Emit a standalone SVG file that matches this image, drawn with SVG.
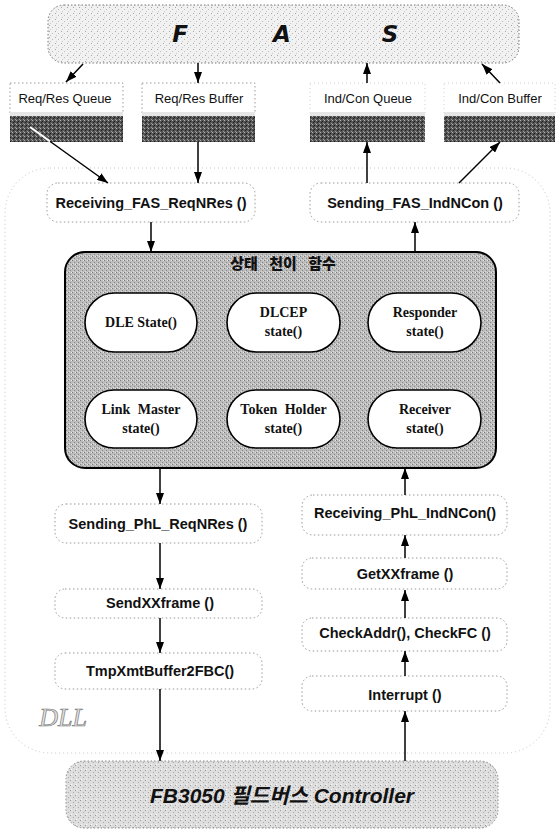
<svg xmlns="http://www.w3.org/2000/svg" width="557" height="832" viewBox="0 0 557 832">
<defs>
  <pattern id="pLight" width="6" height="6" patternUnits="userSpaceOnUse">
    <rect width="6" height="6" fill="#f1f1f1"/>
    <rect x="1" y="1" width="1" height="1" fill="#a8a8a8"/>
    <rect x="4" y="3" width="1" height="1" fill="#bdbdbd"/>
    <rect x="2" y="5" width="1" height="1" fill="#c8c8c8"/>
  </pattern>
  <pattern id="pCtrl" width="5" height="5" patternUnits="userSpaceOnUse">
    <rect width="5" height="5" fill="#dedede"/>
    <rect x="0" y="0" width="1" height="1" fill="#999"/>
    <rect x="3" y="2" width="1" height="1" fill="#aaa"/>
    <rect x="1" y="4" width="1" height="1" fill="#f7f7f7"/>
  </pattern>
  <pattern id="pState" width="4" height="4" patternUnits="userSpaceOnUse">
    <rect width="4" height="4" fill="#bcbcbc"/>
    <rect x="0" y="0" width="1" height="1" fill="#7c7c7c"/>
    <rect x="2" y="2" width="1" height="1" fill="#8a8a8a"/>
    <rect x="3" y="0" width="1" height="1" fill="#e6e6e6"/>
    <rect x="1" y="3" width="1" height="1" fill="#dedede"/>
  </pattern>
  <pattern id="pDark" width="4" height="4" patternUnits="userSpaceOnUse">
    <rect width="4" height="4" fill="#555"/>
    <rect x="0" y="0" width="1" height="1" fill="#b0b0b0"/>
    <rect x="2" y="1" width="1" height="1" fill="#1c1c1c"/>
    <rect x="3" y="3" width="1" height="1" fill="#9a9a9a"/>
    <rect x="1" y="2" width="1" height="1" fill="#222"/>
  </pattern>
  <marker id="ah" viewBox="0 0 11 8" refX="11" refY="4" markerWidth="11" markerHeight="8" markerUnits="userSpaceOnUse" orient="auto">
    <path d="M0,0 L11,4 L0,8 Z" fill="#000"/>
  </marker>
  <style>
    .fn { fill: #fff; stroke: #9a9a9a; stroke-width: 1; stroke-dasharray: 1.5 2.5; }
    .fnt { font-family: "Liberation Sans", Arial, sans-serif; font-weight: bold; font-size: 14.5px; fill: #111; text-anchor: middle; }
    .ql { fill: #fff; stroke: #9a9a9a; stroke-width: 1; stroke-dasharray: 1.5 2.5; }
    .qt { font-family: "Liberation Sans", Arial, sans-serif; font-size: 13px; fill: #111; text-anchor: middle; }
    .strip { fill: #e6e6e6; }
    .band { fill: url(#pDark); }
    .ov { fill: #fff; stroke: #000; stroke-width: 1.6; }
    .ovt { font-family: "Liberation Serif", "Times New Roman", serif; font-weight: bold; font-size: 14px; fill: #111; text-anchor: middle; }
    .con line { stroke: #000; stroke-width: 1.5; fill: none; marker-end: url(#ah); }
    .con line.wht { stroke: #fff; stroke-width: 2; marker-end: none; }
  </style>
</defs>
<rect width="557" height="832" fill="#fff"/>

<g id="dll-region">
  <rect x="5" y="168" width="545" height="585" rx="45" fill="none" stroke="#c4c4c4" stroke-width="1" stroke-dasharray="1 3"/>
  <text x="63" y="726" font-family="Liberation Serif, serif" font-style="italic" font-size="26" fill="#e2e2e2" stroke="#7a7a7a" stroke-width="0.7" text-anchor="middle">DLL</text>
</g>

<g id="fas">
  <rect x="48" y="5" width="471" height="58" rx="16" fill="url(#pLight)" stroke="#777" stroke-width="1" stroke-dasharray="1.5 2"/>
  <g font-family="DejaVu Sans, Liberation Sans, sans-serif" font-weight="bold" font-style="italic" font-size="23" fill="#111" text-anchor="middle">
    <text x="180" y="42">F</text>
    <text x="282" y="42">A</text>
    <text x="390" y="42">S</text>
  </g>
</g>

<g id="req-res-queue">
  <rect class="ql" x="10" y="83" width="113" height="30"/>
  <text class="qt" x="65" y="103">Req/Res Queue</text>
  <rect class="strip" x="10" y="112" width="113" height="4"/>
  <rect class="band" x="10" y="116" width="113" height="26"/>
</g>
<g id="req-res-buffer">
  <rect class="ql" x="142" y="83" width="113" height="30"/>
  <text class="qt" x="199" y="103">Req/Res Buffer</text>
  <rect class="strip" x="142" y="112" width="113" height="4"/>
  <rect class="band" x="142" y="116" width="113" height="26"/>
</g>
<g id="ind-con-queue">
  <rect x="310" y="83" width="115" height="30" fill="#fff" stroke="#d0d0d0" stroke-width="1" stroke-dasharray="1 3"/>
  <text class="qt" x="368" y="103">Ind/Con Queue</text>
  <rect class="strip" x="310" y="112" width="115" height="4"/>
  <rect class="band" x="310" y="116" width="115" height="26"/>
</g>
<g id="ind-con-buffer">
  <rect x="444" y="83" width="111" height="30" fill="#fff" stroke="#d0d0d0" stroke-width="1" stroke-dasharray="1 3"/>
  <text class="qt" x="500" y="103">Ind/Con Buffer</text>
  <rect class="strip" x="444" y="112" width="111" height="4"/>
  <rect class="band" x="444" y="116" width="111" height="26"/>
</g>

<g id="receiving-fas">
  <rect class="fn" x="47" y="183" width="208" height="39" rx="11"/>
  <text class="fnt" x="151" y="208">Receiving_FAS_ReqNRes ()</text>
</g>
<g id="sending-fas">
  <rect class="fn" x="310" y="183" width="209" height="39" rx="11"/>
  <text class="fnt" x="415" y="208">Sending_FAS_IndNCon ()</text>
</g>

<g id="state-functions">
  <rect x="65" y="252" width="431" height="216" rx="20" fill="url(#pState)" stroke="#000" stroke-width="2"/>
  <text x="283" y="269" font-family="Noto Sans CJK KR, sans-serif" font-weight="900" font-size="15" fill="#111" text-anchor="middle" word-spacing="8">상태 천이 함수</text>
</g>
<g id="dle-state">
  <rect class="ov" x="85" y="293" width="112" height="59" rx="29.5"/>
  <text class="ovt" x="141" y="327">DLE State()</text>
</g>
<g id="dlcep-state">
  <rect class="ov" x="227" y="293" width="113" height="59" rx="29.5"/>
  <text class="ovt" x="283.5" y="317">DLCEP</text>
  <text class="ovt" x="283.5" y="336">state()</text>
</g>
<g id="responder-state">
  <rect class="ov" x="368" y="293" width="113" height="59" rx="29.5"/>
  <text class="ovt" x="425" y="317">Responder</text>
  <text class="ovt" x="425" y="336">state()</text>
</g>
<g id="link-master-state">
  <rect class="ov" x="85" y="390" width="112" height="58" rx="29"/>
  <text class="ovt" x="141" y="414" word-spacing="4">Link Master</text>
  <text class="ovt" x="141" y="433">state()</text>
</g>
<g id="token-holder-state">
  <rect class="ov" x="227" y="390" width="113" height="58" rx="29"/>
  <text class="ovt" x="283.5" y="414" word-spacing="4">Token Holder</text>
  <text class="ovt" x="283.5" y="433">state()</text>
</g>
<g id="receiver-state">
  <rect class="ov" x="368" y="390" width="113" height="58" rx="29"/>
  <text class="ovt" x="425" y="414">Receiver</text>
  <text class="ovt" x="425" y="433">state()</text>
</g>

<g id="sending-phl">
  <rect class="fn" x="55" y="504" width="207" height="39" rx="11"/>
  <text class="fnt" x="158" y="529">Sending_PhL_ReqNRes ()</text>
</g>
<g id="sendxxframe">
  <rect class="fn" x="55" y="589" width="207" height="29" rx="10"/>
  <text class="fnt" x="160" y="608">SendXXframe ()</text>
</g>
<g id="tmpxmtbuffer">
  <rect class="fn" x="55" y="653" width="207" height="36" rx="10"/>
  <text class="fnt" x="160" y="676">TmpXmtBuffer2FBC()</text>
</g>
<g id="receiving-phl">
  <rect class="fn" x="302" y="495" width="205" height="40" rx="11"/>
  <text class="fnt" x="405" y="518">Receiving_PhL_IndNCon()</text>
</g>
<g id="getxxframe">
  <rect class="fn" x="302" y="558" width="205" height="31" rx="10"/>
  <text class="fnt" x="405" y="579">GetXXframe ()</text>
</g>
<g id="checkaddr">
  <rect class="fn" x="302" y="618" width="205" height="33" rx="10"/>
  <text class="fnt" x="405" y="638">CheckAddr(), CheckFC ()</text>
</g>
<g id="interrupt">
  <rect class="fn" x="302" y="676" width="205" height="35" rx="10"/>
  <text class="fnt" x="405" y="700">Interrupt ()</text>
</g>

<g id="controller">
  <rect x="66" y="761" width="432" height="67" rx="18" fill="url(#pCtrl)" stroke="#8a8a8a" stroke-width="1" stroke-dasharray="1.5 2"/>
  <text x="282" y="803" font-family="Liberation Sans, Arial, Noto Sans CJK KR, sans-serif" font-weight="bold" font-style="italic" font-size="21" fill="#111" text-anchor="middle">FB3050 필드버스 Controller</text>
</g>

<g id="connectors" class="con">
  <line x1="83" y1="64" x2="66" y2="82"/>
  <line x1="198" y1="63" x2="198" y2="83"/>
  <line x1="367" y1="83" x2="367" y2="63"/>
  <line x1="500" y1="83" x2="482" y2="64"/>
  <line x1="30" y1="127" x2="108" y2="183"/>
  <line class="wht" x1="30" y1="127" x2="50" y2="141.4"/>
  <line x1="198" y1="142" x2="198" y2="183"/>
  <line x1="367" y1="183" x2="367" y2="142"/>
  <line x1="459" y1="183" x2="500" y2="142"/>
  <line x1="151" y1="222" x2="151" y2="252"/>
  <line x1="415" y1="252" x2="415" y2="222"/>
  <line x1="160" y1="468" x2="160" y2="504"/>
  <line x1="405" y1="495" x2="405" y2="468"/>
  <line x1="160" y1="543" x2="160" y2="589"/>
  <line x1="405" y1="558" x2="405" y2="535"/>
  <line x1="160" y1="618" x2="160" y2="653"/>
  <line x1="405" y1="618" x2="405" y2="590"/>
  <line x1="160" y1="689" x2="160" y2="761"/>
  <line x1="405" y1="676" x2="405" y2="651"/>
  <line x1="405" y1="761" x2="405" y2="711"/>
</g>
</svg>
